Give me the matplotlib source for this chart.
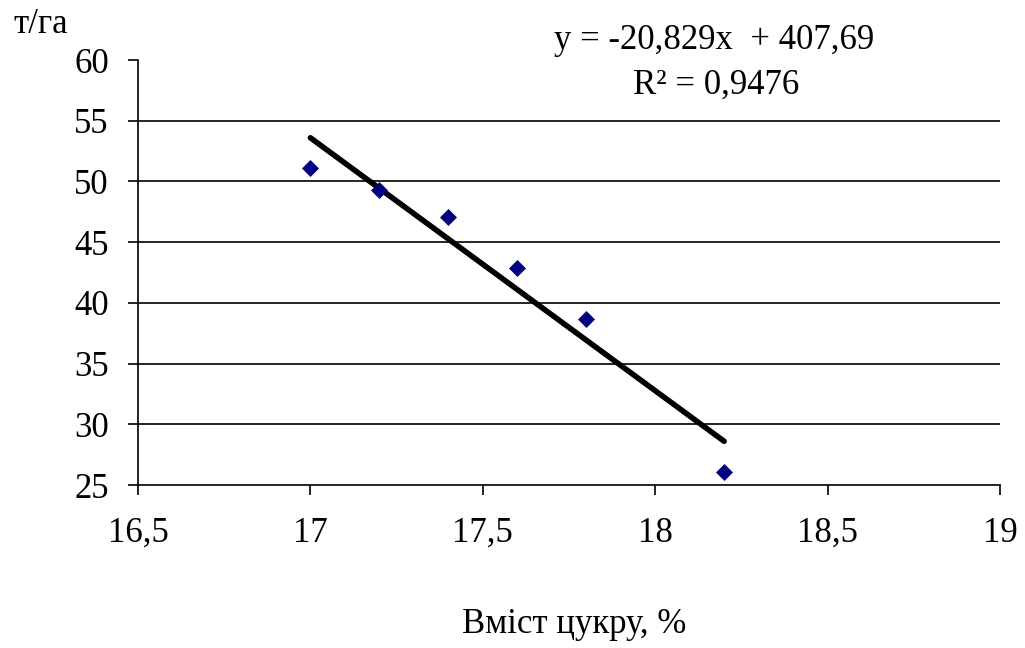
import matplotlib
matplotlib.use("Agg")
import matplotlib.pyplot as plt
import numpy as np
from matplotlib.ticker import FuncFormatter

sugar = [17.0, 17.2, 17.4, 17.6, 17.8, 18.2]
yield_t = [51.1, 49.3, 47.1, 42.9, 38.7, 26.1]
slope = -20.829
intercept = 407.69
r2_text = "0,9476"
x_ticks = [16.5, 17, 17.5, 18, 18.5, 19]
y_ticks = [25, 30, 35, 40, 45, 50, 55, 60]

plt.rcParams['font.family'] = ['Liberation Serif', 'DejaVu Serif']

fig = plt.figure(figsize=(10.25, 6.48), dpi=100)
ax = fig.add_axes([0.1346, 0.2515, 0.8410, 0.6559])

ax.scatter(sugar, yield_t, marker='D', s=75, color='#000080', zorder=3, linewidths=0)
xl = np.array([min(sugar), max(sugar)])
ax.plot(xl, slope * xl + intercept, color='black', lw=4, solid_capstyle='round', zorder=2)

ax.set_xlim(16.5, 19)
ax.set_ylim(25, 60)
ax.set_xticks(x_ticks)
ax.set_yticks(y_ticks)
fmt = FuncFormatter(lambda v, p: (f"{v:g}").replace('.', ','))
ax.xaxis.set_major_formatter(fmt)
ax.yaxis.set_major_formatter(fmt)

for yv in y_ticks[1:-1]:
    ax.axhline(yv, color='black', lw=1.2, zorder=1)

for s in ['top', 'right']:
    ax.spines[s].set_visible(False)
for s in ['left', 'bottom']:
    ax.spines[s].set_linewidth(1.2)
ax.tick_params(axis='both', direction='out', length=7, width=1.2, labelsize=25)
ax.tick_params(axis='x', pad=16)
ax.tick_params(axis='y', pad=14)

eq = f"y = {slope:.3f}x  + {intercept:.2f}".replace('.', ',')
fig.text(0.697, 0.937, eq, ha='center', va='center', fontsize=25)
fig.text(0.699, 0.868, f"R² = {r2_text}", ha='center', va='center', fontsize=25)
fig.text(0.013, 0.962, "т/га", ha='left', va='center', fontsize=25)
fig.text(0.56, 0.037, "Вміст цукру, %", ha='center', va='center', fontsize=25)

fig.savefig("out.png", dpi=100)
